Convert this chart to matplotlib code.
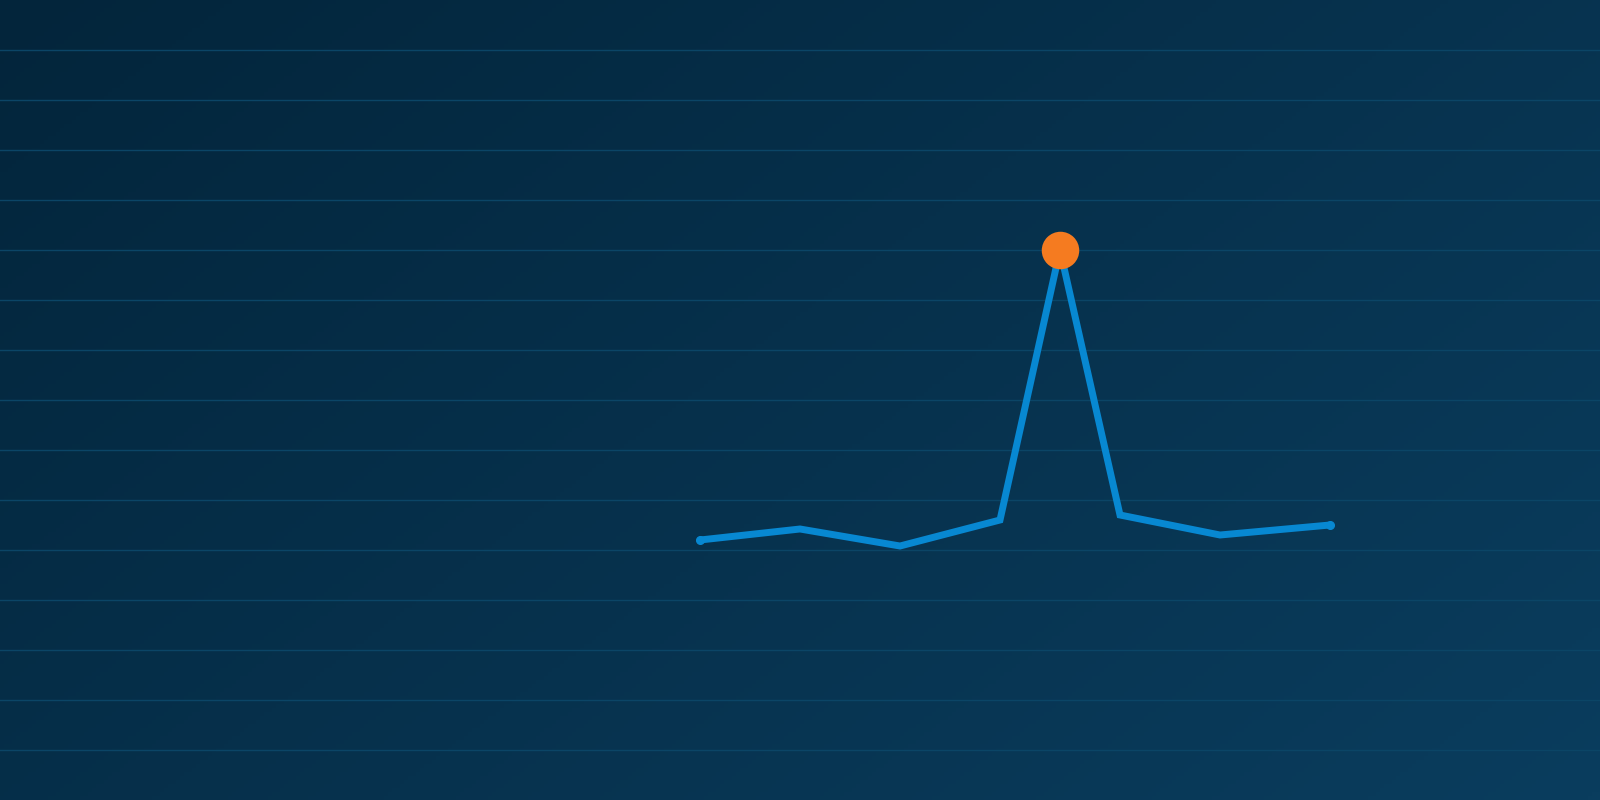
import numpy as np
import matplotlib.pyplot as plt
from matplotlib.colors import LinearSegmentedColormap

# Data (x in arbitrary time units, y in value units)
x_vals = [7.0, 8.0, 9.0, 10.0, 10.6, 11.2, 12.2, 13.3]
y_vals = [5.2, 5.42, 5.08, 5.6, 11.0, 5.7, 5.3, 5.5]
peak_index = 4
grid_levels = list(range(1, 16))

fig = plt.figure(figsize=(16, 8), dpi=100)
ax = fig.add_axes([0, 0, 1, 1])
ax.axis('off')

# Diagonal background gradient, dark top-left to lighter bottom-right
bg = LinearSegmentedColormap.from_list('bg', ['#03253b', '#0a3d5e'])
gx, gy = np.meshgrid(np.linspace(0, 1, 400), np.linspace(0, 1, 200))
grad = gx * 0.6 + gy * 0.4
ax.imshow(grad, cmap=bg, extent=[0, 16, 0, 16], origin='upper',
          aspect='auto', zorder=0)
ax.set_xlim(0, 16)
ax.set_ylim(0, 16)

for lvl in grid_levels:
    ax.axhline(lvl, color='#0b4566', linewidth=1, zorder=1)

ax.plot(x_vals, y_vals, color='#0788d2', linewidth=5,
        solid_joinstyle='miter', solid_capstyle='round', zorder=3)
ax.plot([x_vals[0], x_vals[-1]], [y_vals[0], y_vals[-1]], 'o',
        color='#0788d2', markersize=5.5, zorder=3)
ax.plot(x_vals[peak_index], y_vals[peak_index], 'o', color='#f57b20',
        markersize=27, markeredgewidth=0, zorder=4)

fig.savefig('out.png', dpi=100)
